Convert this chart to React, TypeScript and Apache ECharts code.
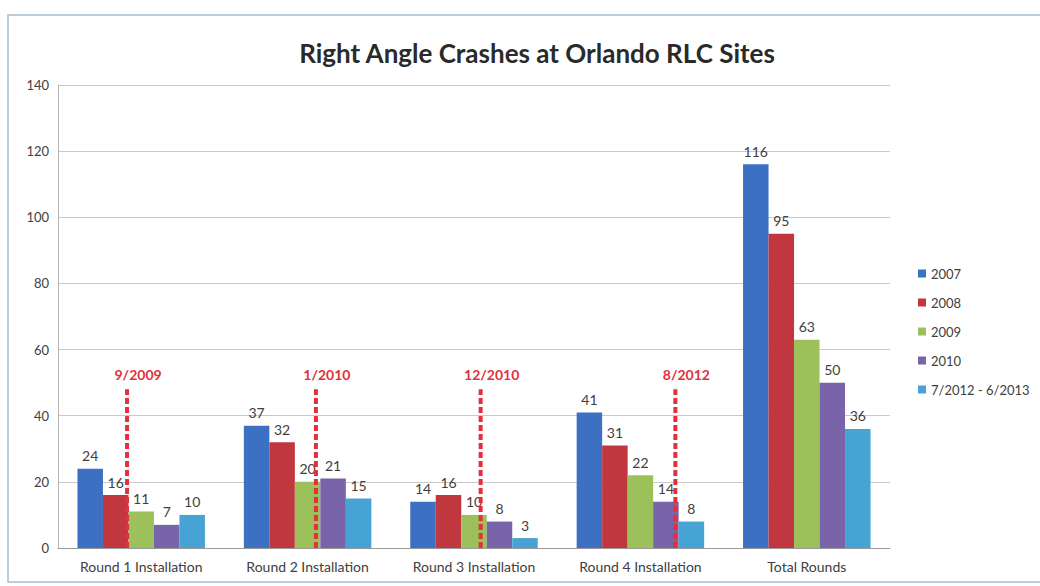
import React, { useEffect, useRef } from "react";
import * as echarts from "echarts";

const categories = [
  "Round 1 Installation",
  "Round 2 Installation",
  "Round 3 Installation",
  "Round 4 Installation",
  "Total Rounds",
];
const seriesNames = ["2007", "2008", "2009", "2010", "7/2012 - 6/2013"];
const values2007 = [24, 37, 14, 41, 116];
const values2008 = [16, 32, 16, 31, 95];
const values2009 = [11, 20, 10, 22, 63];
const values2010 = [7, 21, 8, 14, 50];
const values2012 = [10, 15, 3, 8, 36];
const seriesColors = ["#3c70c2", "#c0373f", "#9cc05a", "#7963a9", "#47a3d3"];

// installation markers: position along category axis (0..5 units), label
const markerPositions = [0.415, 1.55, 2.54, 3.71];
const markerLabels = ["9/2009", "1/2010", "12/2010", "8/2012"];
const markerTop = 48;

const yTicks = { min: 0, max: 140, interval: 20 };

const FONT = "Lato, 'Open Sans', sans-serif";

export default function App() {
  const ref = useRef<HTMLDivElement>(null);
  useEffect(() => {
    if (!ref.current) return;
    const chart = echarts.init(ref.current, null, { renderer: "svg" });
    const allValues = [values2007, values2008, values2009, values2010, values2012];
    const barSeries = seriesNames.map((name, i) => ({
      type: "bar",
      name,
      data: allValues[i],
      barWidth: 25.5,
      barGap: "0%",
      itemStyle: { color: seriesColors[i] },
      label: {
        show: true,
        position: "top",
        distance: 6,
        color: "#404040",
        fontSize: 14,
        fontFamily: FONT,
      },
      xAxisIndex: 0,
      z: 2,
    }));
    const markerSeries = markerPositions.map((x, i) => ({
      type: "line",
      name: "marker" + i,
      xAxisIndex: 1,
      yAxisIndex: 0,
      symbol: "circle",
      symbolSize: 1,
      showSymbol: true,
      silent: true,
      z: 5,
      itemStyle: { color: "rgba(0,0,0,0)" },
      lineStyle: { color: "#e3303c", width: 4, type: [6, 3] },
      label: { show: false },
      data: [
        [x, 0],
        {
          value: [x, markerTop],
          label: {
            show: true,
            position: "top",
            formatter: markerLabels[i],
            offset: [11, -2],
            color: "#e3303c",
            fontSize: 14,
            fontWeight: "bold",
            fontFamily: FONT,
          },
        },
      ],
    }));
    chart.setOption({
      animation: false,
      backgroundColor: "#ffffff",
      title: {
        text: "Right Angle Crashes at Orlando RLC Sites",
        left: 532,
        top: 35,
        textAlign: "center",
        textStyle: {
          fontFamily: FONT,
          fontSize: 26,
          fontWeight: "bold",
          color: "#2a2a2a",
        },
      },
      legend: {
        data: seriesNames,
        orient: "vertical",
        left: 913,
        top: 262,
        itemWidth: 8,
        itemHeight: 8,
        itemGap: 16,
        icon: "rect",
        textStyle: { fontSize: 13, color: "#404040", fontFamily: FONT },
      },
      grid: { left: 58, width: 832, top: 85, bottom: 38, containLabel: false },
      xAxis: [
        {
          type: "category",
          data: categories,
          axisTick: { show: false },
          axisLine: { lineStyle: { color: "#9a9a9a" } },
          axisLabel: { color: "#404040", fontSize: 14, margin: 11, fontFamily: FONT },
        },
        { type: "value", min: 0, max: 5, show: false },
      ],
      yAxis: {
        type: "value",
        min: yTicks.min,
        max: yTicks.max,
        interval: yTicks.interval,
        axisLine: { show: true, lineStyle: { color: "#b5b5b5" } },
        axisTick: { show: false },
        splitLine: { lineStyle: { color: "#c9c9c9" } },
        axisLabel: { color: "#404040", fontSize: 13, margin: 9, fontFamily: FONT },
      },
      graphic: [
        {
          type: "rect",
          shape: { x: 8, y: 15, width: 1060, height: 567 },
          style: { fill: "none", stroke: "#a9bacd", lineWidth: 1.5 },
          silent: true,
        },
      ],
      series: [...barSeries, ...markerSeries],
    });
    return () => chart.dispose();
  }, []);
  return (
    <div
      ref={ref}
      style={{ position: "absolute", left: 0, top: 0, width: 1040, height: 586 }}
    />
  );
}
